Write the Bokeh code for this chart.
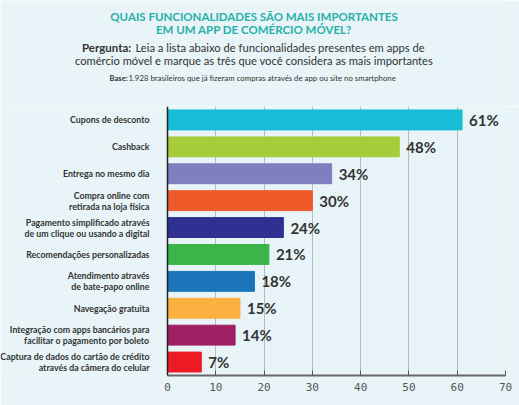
from bokeh.plotting import figure
from bokeh.models import ColumnDataSource, Range1d, FactorRange, FixedTicker
from bokeh.layouts import column
from bokeh.embed import file_html
from bokeh.resources import INLINE
from bokeh.core.properties import value

categories = [
    "Cupons de desconto",
    "Cashback",
    "Entrega no mesmo dia",
    "Compra online com\nretirada na loja física",
    "Pagamento simplificado através\nde um clique ou usando a digital",
    "Recomendações personalizadas",
    "Atendimento através\nde bate-papo online",
    "Navegação gratuita",
    "Integração com apps bancários para\nfacilitar o pagamento por boleto",
    "Captura de dados do cartão de crédito\natravés da câmera do celular",
]
percentages = [61, 48, 34, 30, 24, 21, 18, 15, 14, 7]
bar_colors = ["#17bcd6", "#a6cc3b", "#7f7fbf", "#ef5a2b", "#2e3192",
              "#3bb54a", "#1b75bb", "#fbb040", "#9e1f63", "#ed1c24"]
x_ticks = [0, 10, 20, 30, 40, 50, 60, 70]

title_lines = ["QUAIS FUNCIONALIDADES SÃO MAIS IMPORTANTES",
               "EM UM APP DE COMÉRCIO MÓVEL?"]
question_bold = "Pergunta:"
question_line1 = "Leia a lista abaixo de funcionalidades presentes em apps de"
question_line2 = "comércio móvel e marque as três que você considera as mais importantes"
base_bold = "Base:"
base_text = "1.928 brasileiros que já fizeram compras através de app ou site no smartphone"

BG = "#e8f4f7"
TEAL = "#27b0a8"
DARK = "#333333"
FONT = "Lato"

W = 519
HEAD_H = 106
MAIN_H = 299
RIGHT = 14
AXIS_X = 167            # pixel position of value 0
FRAME_W = W - RIGHT
XMAX = 70
px_per_unit = (FRAME_W - AXIS_X) / XMAX
x_start = -AXIS_X / px_per_unit

# ---------- header ----------
h = figure(width=W, height=HEAD_H, x_range=Range1d(0, FRAME_W), y_range=Range1d(HEAD_H, 0),
           output_backend="svg", toolbar_location=None,
           min_border_left=0, min_border_right=RIGHT, min_border_top=0, min_border_bottom=0)
h.axis.visible = False
h.grid.visible = False
h.outline_line_color = None
h.background_fill_color = BG
h.border_fill_color = BG


def htext(x, y, txt, size, color=DARK, bold=False, align="left"):
    h.text(x=[x], y=[y], text=[txt], text_font=value(FONT),
           text_font_style="bold" if bold else "normal", text_font_size=size,
           text_color=color, text_align=align, text_baseline="alphabetic")


htext(253.5, 16, title_lines[0], "11.5px", TEAL, True, "center")
htext(253.5, 28.5, title_lines[1], "11.5px", TEAL, True, "center")
htext(81.5, 46.5, question_bold, "11.5px", DARK, True)
htext(135, 46.5, question_line1, "11.2px")
htext(253.5, 59.5, question_line2, "11.2px", DARK, False, "center")
htext(109, 77, base_bold, "7.6px", DARK, True)
htext(128, 77, base_text, "7.8px")

# ---------- bar chart ----------
src = ColumnDataSource(data=dict(
    cat=categories, pct=percentages, color=bar_colors,
    label=[f"{v}%" for v in percentages],
))

p = figure(width=W, height=MAIN_H, y_range=FactorRange(factors=list(reversed(categories))),
           x_range=Range1d(x_start, XMAX), output_backend="svg", toolbar_location=None,
           min_border_left=0, min_border_right=RIGHT, min_border_top=0,
           min_border_bottom=30)
p.background_fill_color = BG
p.border_fill_color = BG
p.outline_line_color = None

p.hbar(y="cat", right="pct", left=0, height=0.74, color="color", source=src)
p.text(x="pct", y="cat", text="label", source=src, x_offset=7,
       text_font=value(FONT), text_font_style="bold", text_font_size="15px",
       text_color=DARK, text_align="left", text_baseline="middle")

p.xaxis.ticker = FixedTicker(ticks=x_ticks)
p.xaxis.bounds = (0, XMAX)
p.xaxis.axis_line_color = "#666666"
p.xaxis.axis_line_width = 2
p.xaxis.major_tick_in = 5
p.xaxis.major_tick_out = 0
p.xaxis.major_tick_line_color = "#555555"
p.xaxis.minor_tick_line_color = None
p.xaxis.major_label_text_font = "DejaVu Sans Mono"
p.xaxis.major_label_text_font_size = "11px"
p.xaxis.major_label_text_color = "#555555"
p.xaxis.major_label_standoff = 7

p.yaxis.fixed_location = 0
p.yaxis.axis_line_color = "#222222"
p.yaxis.axis_line_width = 1.5
p.yaxis.major_tick_line_color = None
p.yaxis.minor_tick_line_color = None
p.yaxis.major_label_text_font = FONT
p.yaxis.major_label_text_font_style = "bold"
p.yaxis.major_label_text_font_size = "8.8px"
p.yaxis.major_label_text_color = DARK
p.yaxis.major_label_text_line_height = 1.0
p.yaxis.major_label_standoff = 12

p.ygrid.grid_line_color = None
p.xgrid.ticker = FixedTicker(ticks=x_ticks)
p.xgrid.grid_line_color = "#b3bcc0"
p.xgrid.grid_line_width = 1

layout = column(h, p, spacing=0)

open("out.html", "w").write(file_html(layout, INLINE))
